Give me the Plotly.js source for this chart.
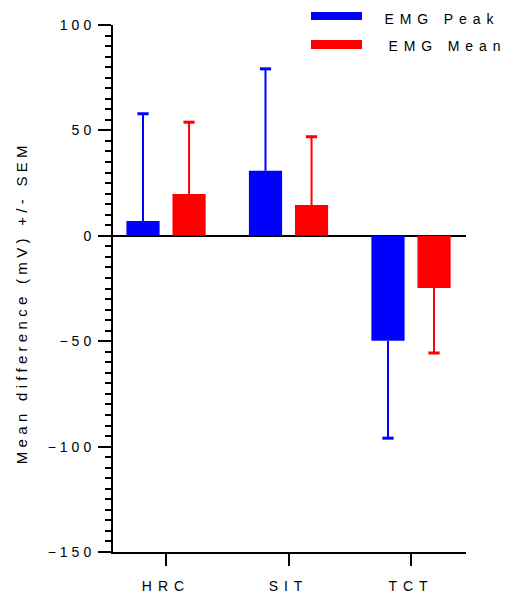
<!DOCTYPE html>
<html>
<head>
<meta charset="utf-8">
<script src="https://cdn.plot.ly/plotly-3.0.1.min.js"></script>
<style>
  html, body { margin: 0; padding: 0; background: #fff; }
  #chart { width: 507px; height: 596px; }
  .xtick text { letter-spacing: 6px !important; }
  .ytick text { letter-spacing: 4px !important; }
  g.annotation[data-index="0"] text,
  g.annotation[data-index="1"] text { letter-spacing: 5.9px !important; }
  g.annotation[data-index="2"] text { letter-spacing: 4.3px !important; }
</style>
</head>
<body>
<div id="chart"></div>
<script>
// ---- data ----
const categories = ['HRC', 'SIT', 'TCT'];
const seriesNames = ['EMG Peak', 'EMG Mean'];
const peakValues = [7.0, 30.8, -49.8];
const peakSEM = [50.9, 48.4, 46.2];
const meanValues = [19.8, 14.6, -24.8];
const meanSEM = [34.1, 32.4, 30.8];
const yTitle = 'Mean difference (mV) +/- SEM';

const colors = ['#0000ff', '#ff0000'];
const FONT = 'Liberation Sans, Arial, sans-serif';
const BARGAP = 0.248;
const Y_RANGE = [-150, 100];
const MAJOR_STEP = 50;
const MINOR_STEP = 5;

function oneSided(values, sem, color) {
  return {
    type: 'data',
    symmetric: false,
    array: values.map((v, i) => v >= 0 ? sem[i] : 0),
    arrayminus: values.map((v, i) => v < 0 ? sem[i] : 0),
    thickness: 2,
    width: 0,
    color: color
  };
}

function barTrace(name, values, sem, color, grp) {
  return {
    type: 'bar',
    name: name,
    x: categories,
    y: values,
    offsetgroup: grp,
    marker: { color: color, line: { width: 0 } },
    error_y: oneSided(values, sem, color),
    showlegend: false,
    hoverinfo: 'x+y'
  };
}

// caps of the SEM whiskers, at the whisker tips
function capTrace(name, values, sem, color, grp) {
  return {
    type: 'scatter',
    mode: 'markers',
    name: name + ' SEM',
    x: categories,
    y: values.map((v, i) => v >= 0 ? v + sem[i] : v - sem[i]),
    offsetgroup: grp,
    marker: { symbol: 'line-ew-open', size: 8, color: color, line: { color: color, width: 3 } },
    showlegend: false,
    hoverinfo: 'skip',
    cliponaxis: false
  };
}

const data = [
  barTrace(seriesNames[0], peakValues, peakSEM, colors[0], 'a'),
  barTrace(seriesNames[1], meanValues, meanSEM, colors[1], 'b'),
  capTrace(seriesNames[0], peakValues, peakSEM, colors[0], 'a'),
  capTrace(seriesNames[1], meanValues, meanSEM, colors[1], 'b')
];

// legend (manual, to get wide flat swatches)
const L = 113, R = 466, T = 25, B = 552;
const px2x = p => (p - L) / (R - L);
const px2y = p => (B - p) / (B - T);

const shapes = [
  { type: 'rect', xref: 'paper', yref: 'paper',
    x0: px2x(311), x1: px2x(362), y0: px2y(20), y1: px2y(12),
    fillcolor: colors[0], line: { width: 0 } },
  { type: 'rect', xref: 'paper', yref: 'paper',
    x0: px2x(311), x1: px2x(362), y0: px2y(49), y1: px2y(40),
    fillcolor: colors[1], line: { width: 0 } }
];

const annotations = [
  { xref: 'paper', yref: 'paper', x: px2x(442), y: px2y(19), xanchor: 'center', yanchor: 'middle',
    text: seriesNames[0], showarrow: false, font: { family: FONT, size: 14, color: '#000' } },
  { xref: 'paper', yref: 'paper', x: px2x(447), y: px2y(45.5), xanchor: 'center', yanchor: 'middle',
    text: seriesNames[1], showarrow: false, font: { family: FONT, size: 14, color: '#000' } },
  { xref: 'paper', yref: 'paper', x: px2x(21), y: px2y(303), xanchor: 'center', yanchor: 'middle',
    text: yTitle, textangle: -90, showarrow: false, font: { family: FONT, size: 15, color: '#000' } }
];

const layout = {
  width: 507,
  height: 596,
  margin: { l: L, r: 507 - R, t: T, b: 596 - B, pad: 0 },
  paper_bgcolor: '#fff',
  plot_bgcolor: '#fff',
  barmode: 'group',
  bargap: BARGAP,
  bargroupgap: 0.28,
  scattermode: 'group',
  scattergap: BARGAP,
  showlegend: false,
  font: { family: FONT, size: 14, color: '#000' },
  xaxis: {
    type: 'category',
    range: [-0.433, 2.449],
    showgrid: false,
    zeroline: false,
    showline: true,
    linecolor: '#000',
    linewidth: 2,
    ticks: 'outside',
    ticklen: 12,
    tickwidth: 2,
    tickcolor: '#000',
    ticklabelstandoff: 8,
    tickfont: { family: FONT, size: 14, color: '#000' }
  },
  yaxis: {
    range: Y_RANGE,
    tickmode: 'linear',
    tick0: Y_RANGE[0],
    dtick: MAJOR_STEP,
    showgrid: false,
    zeroline: true,
    zerolinecolor: '#000',
    zerolinewidth: 2,
    showline: true,
    linecolor: '#000',
    linewidth: 2,
    ticks: 'outside',
    ticklen: 13,
    tickwidth: 2,
    tickcolor: '#000',
    tickfont: { family: FONT, size: 14, color: '#000' }
  },
  shapes: shapes,
  annotations: annotations
};

// minor y ticks every MINOR_STEP, placed with the library's own y scale
function drawMinorTicks(gd) {
  const fl = gd._fullLayout;
  const ya = fl.yaxis;
  const svg = gd.querySelector('svg.main-svg');
  if (!svg || !ya) return;
  const ns = 'http://www.w3.org/2000/svg';
  const g = document.createElementNS(ns, 'g');
  g.setAttribute('class', 'y-minor-ticks');
  const lineX = fl._size.l - (ya.linewidth || 0) / 2;
  let d = '';
  for (let v = Y_RANGE[0]; v <= Y_RANGE[1]; v += MINOR_STEP) {
    if (v % MAJOR_STEP === 0) continue;
    const py = Math.round(ya._offset + ya.l2p(v));
    d += 'M' + lineX + ',' + py + 'h-7';
  }
  const p = document.createElementNS(ns, 'path');
  p.setAttribute('d', d);
  p.setAttribute('stroke', '#000');
  p.setAttribute('stroke-width', '2');
  p.setAttribute('fill', 'none');
  g.appendChild(p);
  svg.appendChild(g);
}

Plotly.newPlot('chart', data, layout, { displayModeBar: false }).then(drawMinorTicks);
</script>
</body>
</html>
